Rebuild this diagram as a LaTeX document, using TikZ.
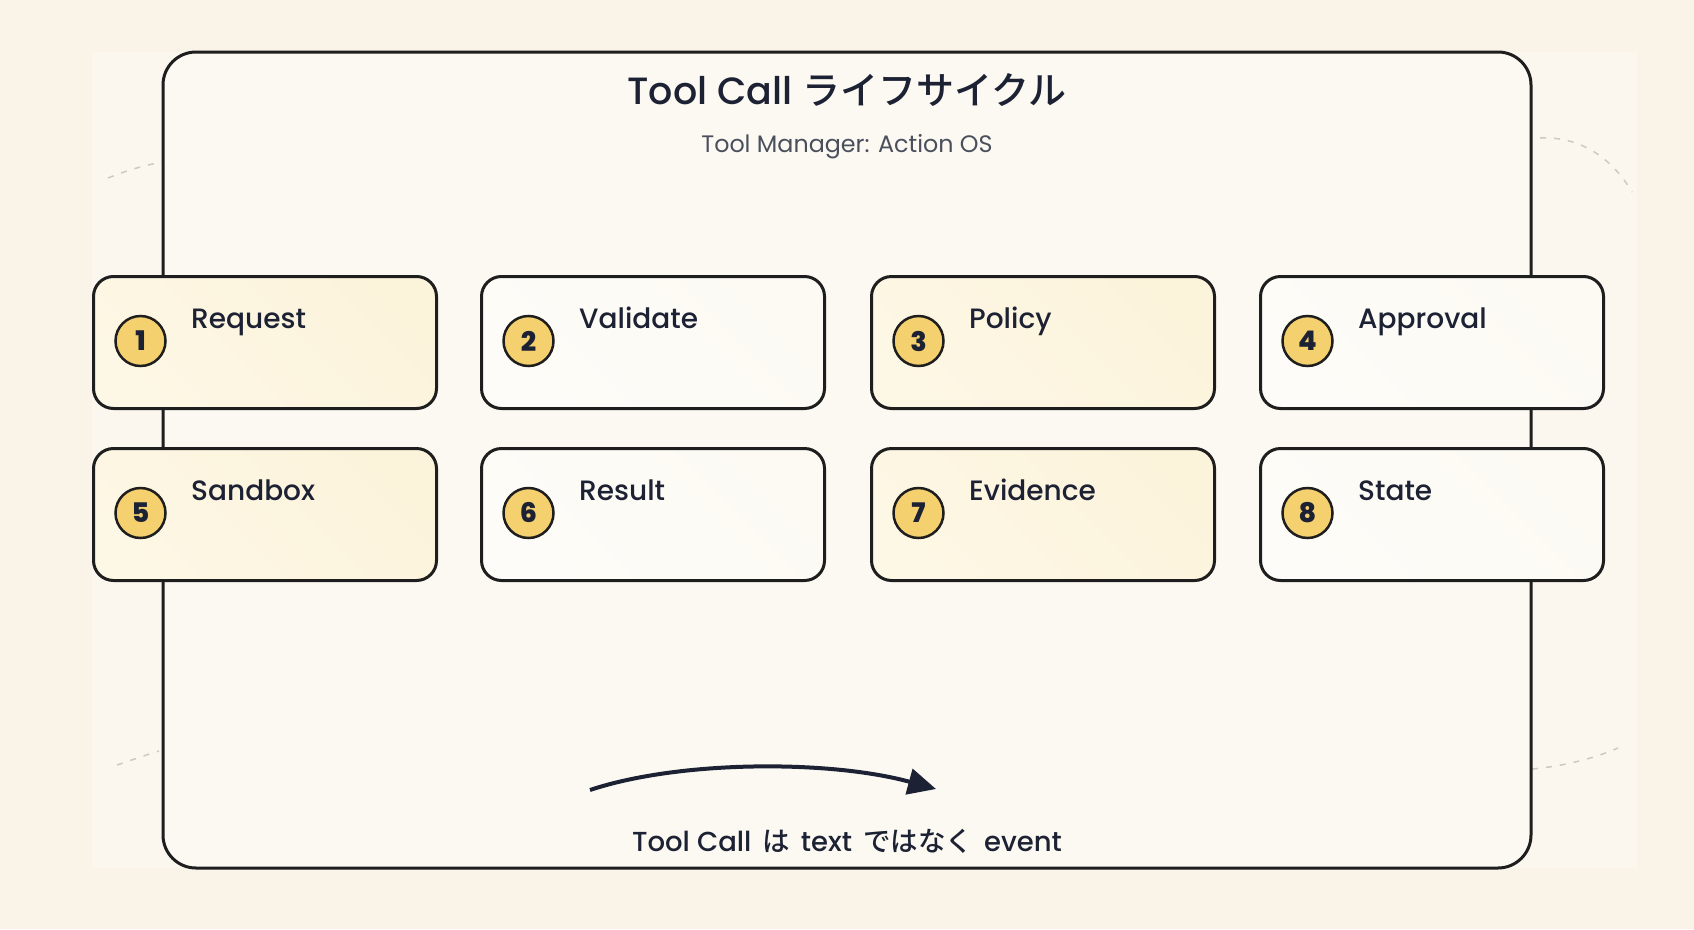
\documentclass[tikz,border=0pt]{standalone}
\usepackage{fontspec}
\setmainfont{Noto Sans CJK JP}
\newfontfamily\jpmed{Noto Sans CJK JP Medium}
\newfontfamily\lat{Poppins}[UprightFont=* Medium, BoldFont=* Bold]
\newfontfamily\latheavy{Poppins}[UprightFont=* ExtraBold]
\newfontfamily\latreg{Poppins}
\usetikzlibrary{arrows.meta,calc}
\definecolor{pagebg}{HTML}{F9F3E8}
\definecolor{panelbg}{HTML}{FBF6EE}
\definecolor{framebg}{HTML}{FCF9F2}
\definecolor{ink}{HTML}{1C2233}
\definecolor{edge}{HTML}{1E1E1E}
\definecolor{subgray}{HTML}{4A4F5C}
\definecolor{yelA}{HTML}{FDF7E5}
\definecolor{yelB}{HTML}{FCF3DB}
\definecolor{whiteA}{HTML}{FEFCF8}
\definecolor{whiteB}{HTML}{FCFAF3}
\definecolor{badge}{HTML}{F4D06F}
\definecolor{dashgray}{HTML}{CFCAC0}
\tikzset{
  x=1pt, y=-1pt,
  stepbox/.style={draw=edge, line width=3pt, rounded corners=20pt, minimum width=343pt, minimum height=132pt, inner sep=0pt},
  yelbox/.style={stepbox, left color=yelA, right color=yelB, shading angle=135},
  whbox/.style={stepbox, left color=whiteA, right color=whiteB, shading angle=135},
  badgenode/.style={circle, draw=edge, line width=2.5pt, fill=badge, minimum size=50pt, inner sep=0pt, font=\latheavy\fontsize{27}{30}\selectfont, text=ink},
  steplabel/.style={anchor=base west, font=\lat\fontsize{28}{32}\selectfont, text=ink, inner sep=0pt},
  dasharc/.style={draw=dashgray, line width=1.5pt, dash pattern=on 6pt off 8pt},
}
\begin{document}
\begin{tikzpicture}
\useasboundingbox (0,0) rectangle (1694,929);
\fill[pagebg] (0,0) rectangle (1694,929);
\fill[panelbg] (92,52) rectangle (1637,868);
% dashed arcs
\draw[dasharc] (108,178) .. controls (128,170) and (145,165) .. (163,162);
\draw[dasharc] (1540,138) .. controls (1580,136) and (1612,158) .. (1632,192);
\draw[dasharc] (1532,769) .. controls (1565,766) and (1595,758) .. (1618,748);
\draw[dasharc] (117,765) .. controls (132,760) and (146,755) .. (159,751);
% frame
\draw[edge, line width=3pt, fill=framebg, rounded corners=33pt] (163,52) rectangle (1531,868);
\node[anchor=base, text=ink, inner sep=0pt] (title) at (847,104) {\lat\fontsize{38}{44}\selectfont Tool Call \jpmed ライフサイクル};
\node[anchor=base, text=subgray, inner sep=0pt] (subtitle) at (847,152) {\latreg\fontsize{23.8}{28}\selectfont Tool Manager: Action OS};
% boxes
\foreach \i/\lab/\sty/\x/\y in {1/Request/yelbox/92/275, 2/Validate/whbox/480/275, 3/Policy/yelbox/870/275, 4/Approval/whbox/1259/275, 5/Sandbox/yelbox/92/447, 6/Result/whbox/480/447, 7/Evidence/yelbox/870/447, 8/State/whbox/1259/447}{
  \node[\sty, anchor=north west] (box\i) at (\x,\y) {};
  \node[badgenode] (badge\i) at ($(\x,\y)+(48.5,66)$) {\raisebox{-1pt}{\i}};
  \node[steplabel] (label\i) at ($(\x,\y)+(99,53.5)$) {\lab};
}
% arrow
\coordinate (arrS) at (590,790);
\coordinate (arrE) at (936,789);
\draw[ink, line width=4pt, -{Triangle[length=28pt,width=26pt]}] (arrS) .. controls (680,760) and (830,760) .. (arrE);
\node[anchor=base, text=ink, inner sep=0pt] (note) at (847,851) {\lat\fontsize{27.5}{32}\selectfont Tool Call\hspace{0.4em}\jpmed は\hspace{0.4em}\lat text\hspace{0.4em}\jpmed ではなく\hspace{0.4em}\lat event};
\end{tikzpicture}
\end{document}
